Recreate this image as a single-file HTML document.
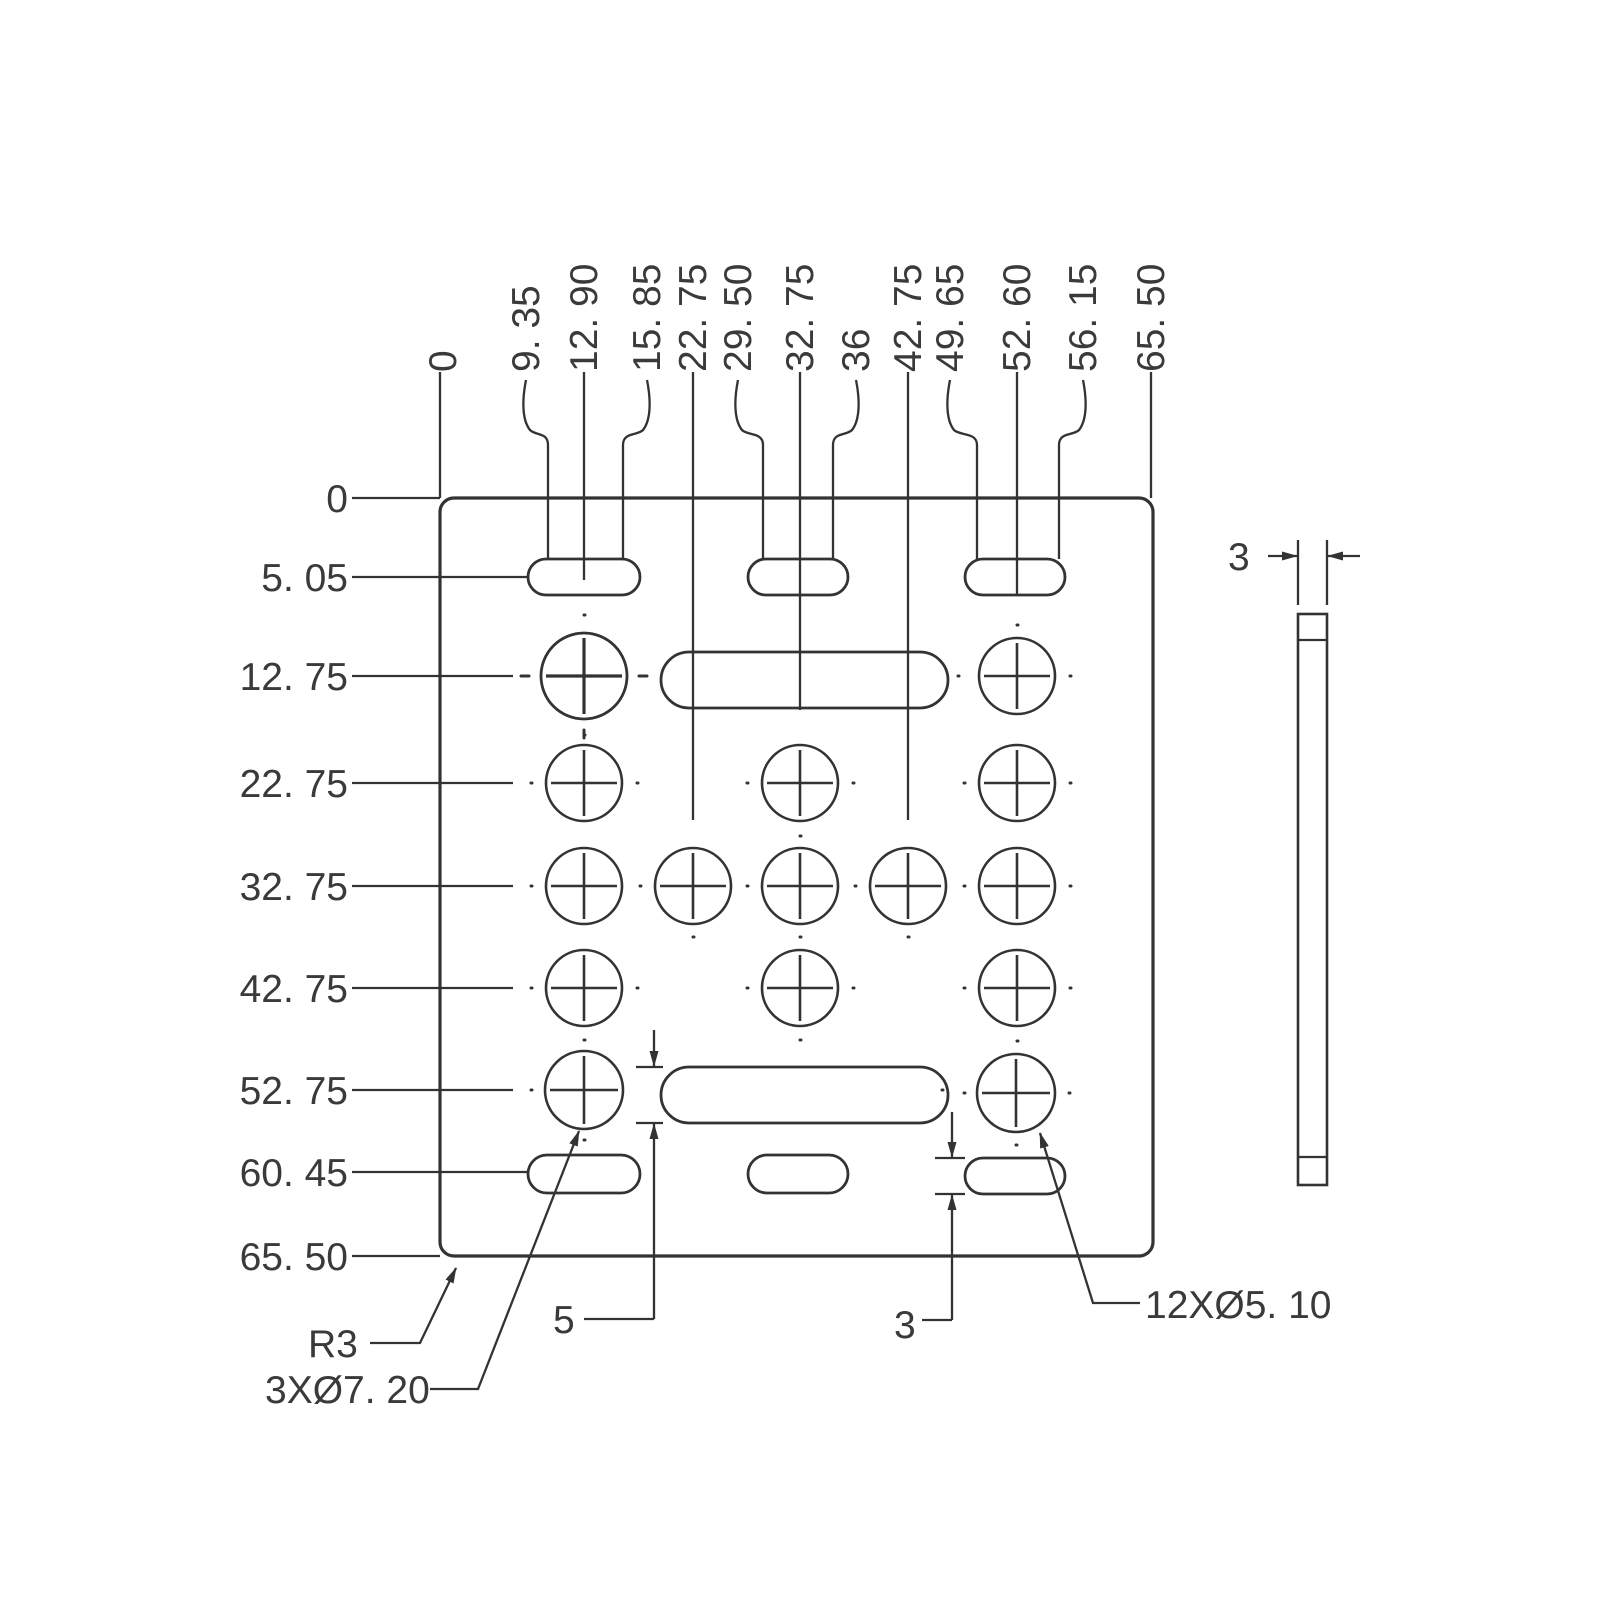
<!DOCTYPE html>
<html><head><meta charset="utf-8"><style>
html,body{margin:0;padding:0;background:#fff;}
svg{display:block;}
text{font-family:"Liberation Sans",sans-serif;fill:#3a3a3a;font-size:39px;}
</style></head><body>
<svg width="1600" height="1600" viewBox="0 0 1600 1600" xmlns="http://www.w3.org/2000/svg">
<defs>
<marker id="ar" markerWidth="16" markerHeight="12" refX="15" refY="6" orient="auto" markerUnits="userSpaceOnUse"><path d="M0,1.5 L16,6 L0,10.5 z" fill="#333"/></marker>
</defs>
<g stroke="#333" fill="none" stroke-width="2.3">
<rect x="440" y="498" width="713" height="758" rx="14" stroke-width="3.2"/>
<g stroke-width="2.8">
<rect x="528" y="559" width="112" height="36" rx="18"/>
<rect x="748" y="559" width="100" height="36" rx="18"/>
<rect x="965" y="559" width="100" height="36" rx="18"/>
<rect x="528" y="1155" width="112" height="38" rx="19"/>
<rect x="748" y="1155" width="100" height="38" rx="19"/>
<rect x="965" y="1158" width="100" height="36" rx="18"/>
<rect x="661" y="652" width="287" height="56" rx="28"/>
<rect x="661" y="1067" width="287" height="56" rx="28"/>
</g>
<circle cx="584" cy="676" r="43" stroke-width="2.8"/>
<path d="M546 676H622M584 638V714" stroke-width="3.2"/>
<g stroke-width="2.6">
<circle cx="1017" cy="676" r="38"/><path d="M984 676H1050M1017 643V709"/>
<circle cx="584" cy="783" r="38"/><path d="M551 783H617M584 750V816"/>
<circle cx="800" cy="783" r="38"/><path d="M767 783H833M800 750V816"/>
<circle cx="1017" cy="783" r="38"/><path d="M984 783H1050M1017 750V816"/>
<circle cx="584" cy="886" r="38"/><path d="M551 886H617M584 853V919"/>
<circle cx="693" cy="886" r="38"/><path d="M660 886H726M693 853V919"/>
<circle cx="800" cy="886" r="38"/><path d="M767 886H833M800 853V919"/>
<circle cx="908" cy="886" r="38"/><path d="M875 886H941M908 853V919"/>
<circle cx="1017" cy="886" r="38"/><path d="M984 886H1050M1017 853V919"/>
<circle cx="584" cy="988" r="38"/><path d="M551 988H617M584 955V1021"/>
<circle cx="800" cy="988" r="38"/><path d="M767 988H833M800 955V1021"/>
<circle cx="1017" cy="988" r="38"/><path d="M984 988H1050M1017 955V1021"/>
<circle cx="584" cy="1090" r="39"/><path d="M550 1090H618M584 1056V1124"/>
<circle cx="1016" cy="1093" r="39"/><path d="M982 1093H1050M1016 1059V1127"/>
</g>
<g stroke-width="3" stroke-linecap="round">
<path d="M531 783h1M637 783h1M747 783h1M853 783h1M964 783h1M1070 783h1
M531 886h1M640 886h1M747 886h1M855 886h1M964 886h1M1070 886h1
M531 988h1M637 988h1M747 988h1M853 988h1M964 988h1M1070 988h1
M531 1090h1M964 1093h1M1069 1093h1M958 676h1M1070 676h1
M584 615h1M584 735h1M1017 625h1M1017 1041h1M1016 1145h1M584 1140h1M584 1040h1
M800 836h1M800 937h1M800 1040h1M693 937h1M908 937h1M942 1090h1"/>
<path d="M521 676h8M639 676h8M584 730v8" stroke-width="3"/>
</g>
<path d="M352 498H440M352 577H528M352 676H513M352 783H513M352 886H513M352 988H513M352 1090H513M352 1172H528M352 1256H440"/>
<path d="M440 372V498M584 372V580M693 372V820M800 372V710M908 372V820M1017 372V595M1151 372V498"/>
<path d="M526 380 C522 400 522 420 530 430 C536 436 548 432 548 445 V559"/>
<path d="M647 380 C651 400 651 420 643 430 C637 436 623 432 623 445 V559"/>
<path d="M738 380 C734 400 734 420 742 430 C748 436 763 432 763 445 V559"/>
<path d="M856 380 C860 400 860 420 852 430 C846 436 833 432 833 445 V559"/>
<path d="M950 380 C946 400 946 420 954 430 C960 436 977 432 977 445 V559"/>
<path d="M1083 380 C1087 400 1087 420 1079 430 C1073 436 1059 432 1059 445 V559"/>
<path d="M636 1067H663M636 1123H663"/>
<path d="M654 1030V1066" marker-end="url(#ar)"/>
<path d="M654 1319V1124" marker-end="url(#ar)"/>
<path d="M584 1319H654"/>
<path d="M935 1158H965M935 1194H965"/>
<path d="M952 1112V1157" marker-end="url(#ar)"/>
<path d="M952 1320V1195" marker-end="url(#ar)"/>
<path d="M922 1320H952"/>
<path d="M370 1343H420L456 1268" marker-end="url(#ar)"/>
<path d="M430 1389H478L579 1131" marker-end="url(#ar)"/>
<path d="M1140 1303H1093L1040 1133" marker-end="url(#ar)"/>
<rect x="1298" y="614" width="29" height="571" stroke-width="2.6"/>
<path d="M1298 640H1327M1298 1157H1327"/>
<path d="M1298 540V605M1327 540V605"/>
<path d="M1268 556H1297" marker-end="url(#ar)"/>
<path d="M1360 556H1328" marker-end="url(#ar)"/>
</g>
<g text-anchor="end">
<text x="348" y="512">0</text>
<text x="348" y="591">5. 05</text>
<text x="348" y="690">12. 75</text>
<text x="348" y="797">22. 75</text>
<text x="348" y="900">32. 75</text>
<text x="348" y="1002">42. 75</text>
<text x="348" y="1104">52. 75</text>
<text x="348" y="1186">60. 45</text>
<text x="348" y="1270">65. 50</text>
</g>
<g>
<text transform="translate(456,372) rotate(-90)">0</text>
<text transform="translate(539,372) rotate(-90)">9. 35</text>
<text transform="translate(597,372) rotate(-90)">12. 90</text>
<text transform="translate(660,372) rotate(-90)">15. 85</text>
<text transform="translate(706,372) rotate(-90)">22. 75</text>
<text transform="translate(751,372) rotate(-90)">29. 50</text>
<text transform="translate(813,372) rotate(-90)">32. 75</text>
<text transform="translate(869,372) rotate(-90)">36</text>
<text transform="translate(921,372) rotate(-90)">42. 75</text>
<text transform="translate(963,372) rotate(-90)">49. 65</text>
<text transform="translate(1030,372) rotate(-90)">52. 60</text>
<text transform="translate(1096,372) rotate(-90)">56. 15</text>
<text transform="translate(1164,372) rotate(-90)">65. 50</text>
</g>
<text x="308" y="1357">R3</text>
<text x="265" y="1403">3XØ7. 20</text>
<text x="553" y="1333">5</text>
<text x="894" y="1338">3</text>
<text x="1145" y="1318">12XØ5. 10</text>
<text x="1228" y="570">3</text>
</svg>
</body></html>
